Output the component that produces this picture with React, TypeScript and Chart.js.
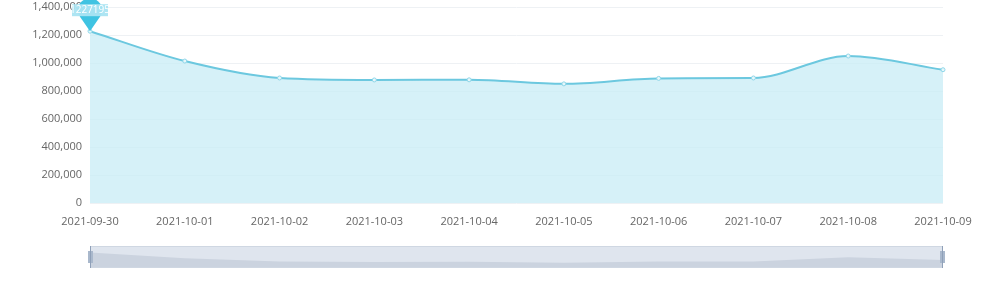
import React, { useEffect, useRef } from "react";
import { Chart, registerables } from "chart.js";

Chart.register(...registerables);

const categories = ["2021-09-30", "2021-10-01", "2021-10-02", "2021-10-03", "2021-10-04", "2021-10-05", "2021-10-06", "2021-10-07", "2021-10-08", "2021-10-09"];
const values = [1227195, 1014000, 893000, 879000, 880000, 851000, 890000, 893000, 1050000, 952000];
const yTicks = [0, 200000, 400000, 600000, 800000, 1000000, 1200000, 1400000];
const markLabel = "1227195";

const pinPlugin = {
  id: "pin",
  afterDatasetsDraw(chart: any) {
    const meta = chart.getDatasetMeta(0);
    const p = meta.data[0];
    if (!p) return;
    const ctx = chart.ctx;
    const x = p.x, y = p.y;
    const r = 12;
    const cy = y - 21;
    ctx.save();
    ctx.beginPath();
    const a = Math.asin(r / 21);
    ctx.moveTo(x, y);
    ctx.arc(x, cy, r, Math.PI - a, 2 * Math.PI + a, false);
    ctx.closePath();
    ctx.fillStyle = "#3fc3e2";
    ctx.fill();
    ctx.fillStyle = "rgba(170,228,242,0.95)";
    ctx.fillRect(x - 18, cy - 6, 36, 12);
    ctx.fillStyle = "#ffffff";
    ctx.font = "10px 'Open Sans', sans-serif";
    ctx.textAlign = "center";
    ctx.textBaseline = "middle";
    ctx.fillText(markLabel, x, cy);
    ctx.restore();
  },
};

const sliderPlugin = {
  id: "slider",
  afterDraw(chart: any) {
    const ctx = chart.ctx;
    const xs = chart.scales.x;
    const left = chart.chartArea.left;
    const right = chart.chartArea.right;
    const top = 246, bottom = 268, h = bottom - top;
    ctx.save();
    ctx.fillStyle = "#dfe5ee";
    ctx.fillRect(left, top, right - left, h);
    ctx.beginPath();
    ctx.moveTo(left, bottom);
    values.forEach((v, i) => {
      const px = xs.getPixelForValue(i);
      const py = bottom - 4 - ((v - 800000) / 450000) * 12;
      ctx.lineTo(px, py);
    });
    ctx.lineTo(right, bottom);
    ctx.closePath();
    ctx.fillStyle = "#cbd3df";
    ctx.fill();
    ctx.strokeStyle = "#cfd7e2";
    ctx.lineWidth = 1;
    ctx.strokeRect(left + 0.5, top + 0.5, right - left - 1, h - 1);
    ctx.fillStyle = "#a9b8cc";
    ctx.fillRect(left - 2, top + 5, 5, 12);
    ctx.fillRect(right - 3, top + 5, 5, 12);
    ctx.fillStyle = "#8fa0b8";
    ctx.fillRect(left, top, 1, h);
    ctx.fillRect(right - 1, top, 1, h);
    ctx.restore();
  },
};

export default function App() {
  const ref = useRef<HTMLCanvasElement>(null);
  useEffect(() => {
    document.body.style.margin = "0";
    const chart = new Chart(ref.current!, {
      type: "line",
      data: {
        labels: categories,
        datasets: [
          {
            data: values,
            borderColor: "#6cc8df",
            backgroundColor: "rgba(200,236,246,0.75)",
            fill: true,
            tension: 0.4,
            cubicInterpolationMode: "monotone",
            borderWidth: 2,
            pointRadius: 2,
            pointBorderWidth: 1,
            pointBackgroundColor: "#e6f7fb",
            pointBorderColor: "#8fd6e8",
          },
        ],
      },
      options: {
        animation: false,
        responsive: false,
        maintainAspectRatio: false,
        layout: { padding: { left: 0, right: 57, top: 7, bottom: 63 } },
        plugins: { legend: { display: false }, tooltip: { enabled: false } },
        scales: {
          x: {
            grid: { display: false, drawTicks: false },
            border: { display: false },
            ticks: { color: "#666", font: { size: 11, family: "'Open Sans', sans-serif" }, padding: 12, maxRotation: 0, autoSkip: false },
            afterFit: (s: any) => { s.height = 40; },
          },
          y: {
            min: 0,
            max: 1400000,
            afterBuildTicks: (s: any) => { s.ticks = yTicks.map((v) => ({ value: v })); },
            grid: { color: "#eef1f4", drawTicks: false },
            border: { display: false },
            ticks: {
              color: "#666",
              font: { size: 11, family: "'Open Sans', sans-serif" },
              padding: 8,
              callback: (v: any) => Number(v).toLocaleString("en-US"),
            },
            afterFit: (s: any) => { s.width = 90; s.paddingTop = 0; s.paddingBottom = 0; },
          },
        },
      },
      plugins: [pinPlugin, sliderPlugin],
    });
    return () => chart.destroy();
  }, []);
  return <canvas ref={ref} width={1000} height={306} style={{ display: "block" }} />;
}
